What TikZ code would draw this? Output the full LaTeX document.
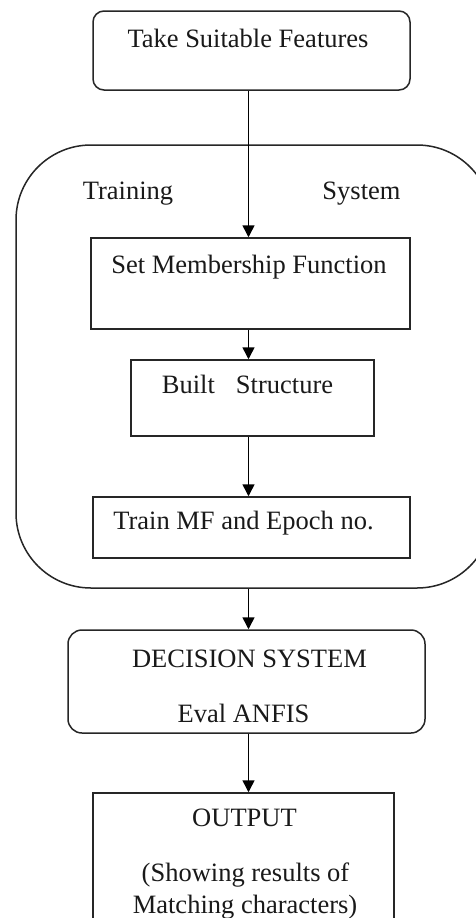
\documentclass[tikz,border=0pt]{standalone}
\usepackage{fontspec}
\setmainfont{Liberation Serif}
\usetikzlibrary{arrows.meta}
\begin{document}
\begin{tikzpicture}[x=1pt,y=-1pt,
  box/.style={draw=black!85,line width=1.5pt,rectangle,inner sep=0pt},
  rbox/.style={box,rounded corners=11pt},
  lbl/.style={anchor=base,inner sep=0pt,text=black!90,font=\fontsize{26.5}{30}\selectfont},
  arr/.style={draw=black,line width=1.5pt,-{Triangle[length=12pt,width=12pt]}}]
\useasboundingbox (0,0) rectangle (476,918);
\clip (0,0) rectangle (476,918);
\fill[white] (0,0) rectangle (476,918);
\coordinate (ax) at (248.5,0);
% boxes
\node[rbox,minimum width=317pt,minimum height=79pt] (take) at (251.5,50.5) {};
\node[box,rounded corners=75pt,minimum width=476pt,minimum height=443pt] (train) at (254,366.5) {};
\node[box,minimum width=319pt,minimum height=91pt] (setmf) at (250.5,283.5) {};
\node[box,minimum width=243pt,minimum height=76pt] (built) at (252.5,398) {};
\node[box,minimum width=317pt,minimum height=61pt] (trainmf) at (251.5,527.5) {};
\node[rbox,rounded corners=14pt,minimum width=357pt,minimum height=103pt] (decision) at (246.5,681.5) {};
\node[box,minimum width=301pt,minimum height=140pt] (output) at (243.5,863) {};
% texts
\node[lbl] (t1) at (248,47) {Take Suitable Features};
\node[lbl] (t2) at (128,199) {Training};
\node[lbl] (t3) at (361.5,199) {System};
\node[lbl] (t4) at (249,273) {Set Membership Function};
\node[lbl] (t5) at (247.5,393) {Built\hspace{21pt}Structure};
\node[lbl] (t6) at (243.5,529) {Train MF and Epoch no.};
\node[lbl] (t7) at (249.5,667) {DECISION SYSTEM};
\node[lbl] (t8) at (243.5,722) {Eval ANFIS};
\node[lbl] (t9) at (244.5,826) {OUTPUT};
\node[lbl] (t10) at (245.5,881) {(Showing results of};
\node[lbl] (t11) at (245,913) {Matching characters)};
% arrows
\draw[arr] (take.south -| ax) -- (setmf.north -| ax);
\draw[arr] (setmf.south -| ax) -- (built.north -| ax);
\draw[arr] (built.south -| ax) -- (trainmf.north -| ax);
\draw[arr] (train.south -| ax) -- (decision.north -| ax);
\draw[arr] (decision.south -| ax) -- (output.north -| ax);
\end{tikzpicture}
\end{document}
